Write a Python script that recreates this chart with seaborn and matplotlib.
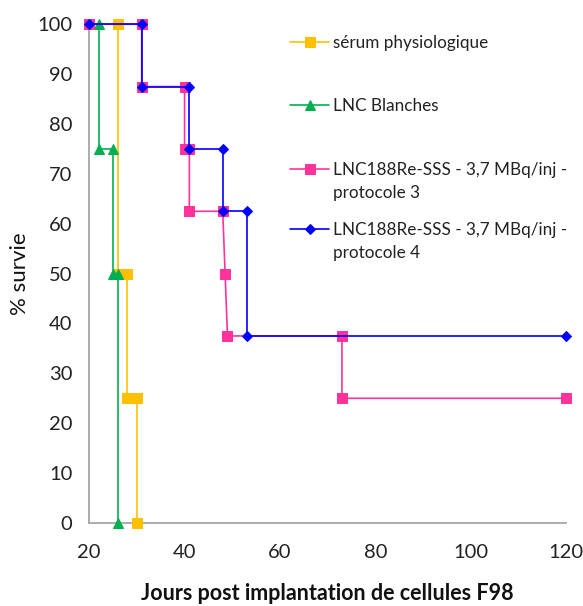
import matplotlib
matplotlib.use("Agg")
import matplotlib.pyplot as plt
import seaborn as sns

# survival curves (days post implantation, % survival)
serum_x = [26, 26, 28, 28, 30, 30]
serum_y = [100, 50, 50, 25, 25, 0]

blanches_x = [22, 22, 25, 25, 26, 26]
blanches_y = [100, 75, 75, 50, 50, 0]

proto3_x = [20, 31, 31, 40, 40, 41, 41, 48, 48.5, 49, 73, 73, 120]
proto3_y = [100, 100, 87.5, 87.5, 75, 75, 62.5, 62.5, 50, 37.5, 37.5, 25, 25]

proto4_x = [20, 31, 31, 41, 41, 48, 48, 53, 53, 120]
proto4_y = [100, 100, 87.5, 87.5, 75, 75, 62.5, 62.5, 37.5, 37.5]

labels = [
    "sérum physiologique",
    "LNC Blanches",
    "LNC188Re-SSS - 3,7 MBq/inj -",
    "LNC188Re-SSS - 3,7 MBq/inj -",
]
second_lines = ["", "", "protocole 3", "protocole 4"]
x_ticks = [20, 40, 60, 80, 100, 120]
y_ticks = [0, 10, 20, 30, 40, 50, 60, 70, 80, 90, 100]

sns.set_style("white")
plt.rcParams["font.family"] = ["Lato", "DejaVu Sans"]

fig = plt.figure(figsize=(5.83, 6.06), dpi=100)
ax = fig.add_axes([0.153, 0.137, 0.818, 0.823])

series = [
    (serum_x, serum_y, "#FFC000", "s", 7),
    (blanches_x, blanches_y, "#00B050", "^", 7),
    (proto3_x, proto3_y, "#FF3399", "s", 7),
    (proto4_x, proto4_y, "#0000FF", "D", 5.5),
]
for (xs, ys, col, mk, ms), lab in zip(series, labels):
    sns.lineplot(x=xs, y=ys, sort=False, estimator=None, ax=ax, color=col,
                 marker=mk, markersize=ms, markeredgecolor=col,
                 linewidth=1.2, label=lab, legend=False, clip_on=False,
                 zorder=3)

ax.set_xlim(20, 120)
ax.set_ylim(0, 100)
ax.set_xticks(x_ticks)
ax.set_yticks(y_ticks)
ax.tick_params(axis="both", labelsize=14.5, colors="#999999", labelcolor="#222222",
               length=5, width=1.2, direction="out")
ax.tick_params(axis="x", pad=10)
ax.tick_params(axis="y", pad=7)
for side in ["top", "right"]:
    ax.spines[side].set_visible(False)
for side in ["left", "bottom"]:
    ax.spines[side].set_color("#A6A6A6")
    ax.spines[side].set_linewidth(1.3)

ax.set_xlabel("Jours post implantation de cellules F98", fontsize=15.5,
              fontweight="bold", labelpad=16, color="#111111")
ax.set_ylabel("% survie", fontsize=16, color="#111111", labelpad=5)

# legend: one small legend per entry so the spacing follows the original
handles = ax.get_lines()
leg_fs = 12.3
leg_x = 0.421
leg_y = [0.962, 0.836, 0.707, 0.587]
cont_dy = 0.046
ax_w_px = 0.818 * 583
text_x = leg_x + (2.3 + 0.2) * leg_fs * 100 / 72 / ax_w_px
for h, lab, extra, y in zip(handles, labels, second_lines, leg_y):
    lg = ax.legend([h], [lab], loc="center left", bbox_to_anchor=(leg_x, y),
                   frameon=False, fontsize=leg_fs, handlelength=2.3,
                   handletextpad=0.2, borderpad=0, borderaxespad=0,
                   labelcolor="#222222")
    ax.add_artist(lg)
    if extra:
        ax.text(text_x, y - cont_dy, extra, transform=ax.transAxes,
                fontsize=leg_fs, va="center", ha="left", color="#222222")
ax.legend_ = None

fig.savefig("out.png", dpi=100)
